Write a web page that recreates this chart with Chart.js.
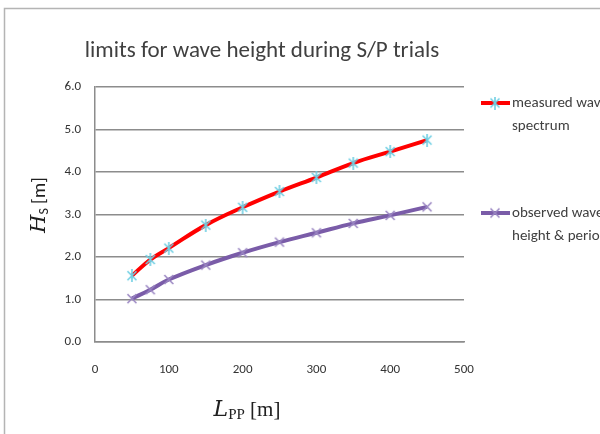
<!DOCTYPE html>
<html>
<head>
<meta charset="utf-8">
<script src="https://cdn.jsdelivr.net/npm/chart.js@4.4.0/dist/chart.umd.min.js"></script>
<style>
  html, body { margin: 0; padding: 0; background: #fff; }
  #wrap { width: 600px; height: 434px; overflow: hidden; }
</style>
</head>
<body>
<div id="wrap"><canvas id="waveChart" width="600" height="434"></canvas></div>
<script>
// values
const lppValues = [50, 75, 100, 150, 200, 250, 300, 350, 400, 450];
const measuredSpectrum = [1.56, 1.94, 2.21, 2.75, 3.17, 3.54, 3.87, 4.21, 4.48, 4.75];
const observedWave = [1.02, 1.23, 1.47, 1.81, 2.10, 2.35, 2.57, 2.79, 2.98, 3.18];
const seriesLabels = [['measured wave', 'spectrum'], ['observed wave', 'height & period']];
const chartTitle = 'limits for wave height during S/P trials';

const FONT = "Carlito, 'Liberation Sans Narrow', 'Open Sans', sans-serif";
const TEXT = '#404040';

function makeMarker(color, withBar) {
  const c = document.createElement('canvas');
  c.width = 12; c.height = 13;
  const g = c.getContext('2d');
  g.strokeStyle = color;
  g.lineWidth = 1.6;
  g.beginPath();
  g.moveTo(1.5, 2); g.lineTo(10.5, 11);
  g.moveTo(10.5, 2); g.lineTo(1.5, 11);
  if (withBar) { g.moveTo(6, 0); g.lineTo(6, 13); }
  g.stroke();
  return c;
}

const starMarker = makeMarker('#6fcfe3', true);
const crossMarker = makeMarker('#9a86c2', false);

function toPoints(ys) {
  return lppValues.map((x, i) => ({ x: x, y: ys[i] }));
}

const decorPlugin = {
  id: 'decor',
  afterDraw(chart) {
    const ctx = chart.ctx;
    ctx.save();

    // outer frame of the pasted chart
    ctx.strokeStyle = '#b4b4b4';
    ctx.lineWidth = 1.5;
    ctx.strokeRect(4.5, 8.5, 700, 500);

    // title
    ctx.fillStyle = TEXT;
    ctx.font = '23px ' + FONT;
    ctx.textAlign = 'center';
    ctx.textBaseline = 'alphabetic';
    ctx.fillText(chartTitle, 262, 57);

    // y axis title: H_S [m]
    ctx.save();
    ctx.translate(38, 205);
    ctx.rotate(-Math.PI / 2);
    ctx.textAlign = 'left';
    ctx.textBaseline = 'alphabetic';
    const partsY = [
      { t: 'H', f: "italic 21px 'DejaVu Serif', serif", dy: 7 },
      { t: 'S', f: '14px ' + FONT, dy: 10 },
      { t: ' [m]', f: '19px ' + FONT, dy: 7 }
    ];
    let w = 0;
    partsY.forEach(p => { ctx.font = p.f; w += ctx.measureText(p.t).width; });
    let px = -w / 2;
    partsY.forEach(p => {
      ctx.font = p.f;
      ctx.fillStyle = '#202020';
      ctx.fillText(p.t, px, p.dy);
      px += ctx.measureText(p.t).width;
    });
    ctx.restore();

    // x axis title: L_PP [m]
    const partsX = [
      { t: 'L', f: "italic 22px 'DejaVu Serif', serif", dy: 0 },
      { t: 'PP', f: "15px 'Liberation Serif', serif", dy: 3 },
      { t: ' [m]', f: "21px 'Liberation Serif', serif", dy: 0 }
    ];
    w = 0;
    partsX.forEach(p => { ctx.font = p.f; w += ctx.measureText(p.t).width; });
    px = 247 - w / 2;
    ctx.textAlign = 'left';
    partsX.forEach(p => {
      ctx.font = p.f;
      ctx.fillStyle = '#202020';
      ctx.fillText(p.t, px, 416 + p.dy);
      px += ctx.measureText(p.t).width;
    });

    // legend on the right
    const ds = chart.data.datasets;
    const rows = [103, 213];
    ds.forEach((d, i) => {
      const y = rows[i];
      ctx.strokeStyle = d.borderColor;
      ctx.lineWidth = 4;
      ctx.beginPath();
      ctx.moveTo(481, y);
      ctx.lineTo(510, y);
      ctx.stroke();
      const m = d.pointStyle;
      ctx.drawImage(m, 495 - m.width / 2, y - m.height / 2);
      ctx.fillStyle = TEXT;
      ctx.font = '15px ' + FONT;
      ctx.textAlign = 'left';
      ctx.textBaseline = 'middle';
      seriesLabels[i].forEach((line, k) => {
        ctx.fillText(line, 512, y + k * 23);
      });
    });

    ctx.restore();
  }
};

new Chart(document.getElementById('waveChart'), {
  type: 'line',
  data: {
    datasets: [
      {
        label: seriesLabels[0].join(' '),
        data: toPoints(measuredSpectrum),
        borderColor: '#ff0000',
        borderWidth: 4,
        pointStyle: starMarker,
        tension: 0.4,
        fill: false
      },
      {
        label: seriesLabels[1].join(' '),
        data: toPoints(observedWave),
        borderColor: '#7a5ca8',
        borderWidth: 4,
        pointStyle: crossMarker,
        tension: 0.4,
        fill: false
      }
    ]
  },
  options: {
    responsive: false,
    animation: false,
    layout: { padding: { left: 0, top: 87, right: 136, bottom: 0 } },
    plugins: {
      legend: { display: false },
      title: { display: false },
      tooltip: { enabled: false }
    },
    scales: {
      x: {
        type: 'linear',
        min: 0,
        max: 500,
        ticks: {
          stepSize: 100,
          padding: 20,
          color: '#333333',
          font: { family: FONT, size: 13 }
        },
        grid: { display: false, drawTicks: false },
        border: { display: true, color: '#8c8c8c', width: 1.5 },
        afterFit(scale) { scale.height = 92; }
      },
      y: {
        min: 0,
        max: 6,
        ticks: {
          stepSize: 1,
          padding: 14,
          color: '#333333',
          font: { family: FONT, size: 13 },
          callback: v => v.toFixed(1)
        },
        grid: { color: '#8c8c8c', lineWidth: 1.5, drawTicks: false },
        border: { display: true, color: '#8c8c8c', width: 1.5 },
        afterFit(scale) { scale.width = 95; }
      }
    }
  },
  plugins: [decorPlugin]
});
</script>
</body>
</html>
